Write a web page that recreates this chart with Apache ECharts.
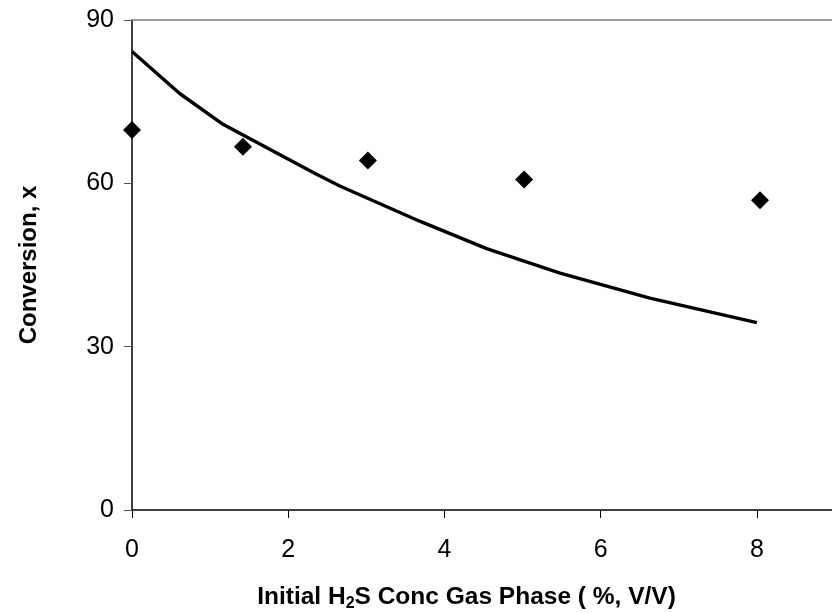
<!DOCTYPE html>
<html>
<head>
<meta charset="utf-8">
<script src="https://cdn.jsdelivr.net/npm/echarts@6/dist/echarts.min.js"></script>
<style>
  html, body { margin: 0; padding: 0; background: #fff; }
  #chart { width: 832px; height: 613px; }
</style>
</head>
<body>
<div id="chart"></div>
<script>
// Measured conversion at each initial H2S concentration
const measuredConc = [0, 1.42, 3.02, 5.02, 8.04];
const measuredConversion = [69.8, 66.7, 64.2, 60.7, 56.9];

// Model prediction curve
const modelConc = [0, 0.61, 1.17, 2.32, 2.66, 3.69, 4.54, 5.48, 6.63, 8.0];
const modelConversion = [84.2, 76.5, 70.8, 62.0, 59.5, 53.0, 48.0, 43.5, 38.9, 34.4];

const xTicks = [0, 2, 4, 6, 8];
const yTicks = [0, 30, 60, 90];

const font = 'Liberation Sans, Arial, sans-serif';

const chart = echarts.init(document.getElementById('chart'), null, { renderer: 'canvas' });

chart.setOption({
  animation: false,
  backgroundColor: '#ffffff',
  grid: { left: 132, top: 20, right: -3, bottom: 103, containLabel: false, outerBoundsMode: 'none' },
  xAxis: [
    {
      type: 'value',
      position: 'bottom',
      min: 0,
      max: 9,
      interval: 1,
      name: 'Initial H{sub|2}S Conc Gas Phase ( %, V/V)',
      nameLocation: 'middle',
      nameGap: 73,
      nameTextStyle: {
        fontFamily: font,
        fontWeight: 'bold',
        fontSize: 24.5,
        color: '#000',
        padding: [0, 34, 0, 0],
        rich: {
          sub: { fontFamily: font, fontWeight: 'bold', fontSize: 16, color: '#000', padding: [13, 0, 0, 0] }
        }
      },
      axisLine: { show: true, lineStyle: { color: '#000', width: 1.5 } },
      axisTick: {
        show: true, inside: false, length: 8,
        customValues: xTicks,
        lineStyle: { color: '#000', width: 1 }
      },
      axisLabel: {
        show: true, margin: 28,
        customValues: xTicks,
        fontFamily: font, fontSize: 25, color: '#000'
      },
      splitLine: { show: false }
    },
    {
      type: 'value',
      position: 'top',
      min: 0,
      max: 9,
      axisLine: { show: true, onZero: false, lineStyle: { color: '#7f7f7f', width: 1.5 } },
      axisTick: { show: false },
      axisLabel: { show: false },
      splitLine: { show: false }
    }
  ],
  yAxis: {
    type: 'value',
    min: 0,
    max: 90,
    interval: 30,
    name: 'Conversion, x',
    nameLocation: 'middle',
    nameGap: 91,
    nameTextStyle: {
      fontFamily: font, fontWeight: 'bold', fontSize: 24, color: '#000'
    },
    axisLine: { show: true, onZero: false, lineStyle: { color: '#000', width: 1.5 } },
    axisTick: { show: true, inside: false, length: 8, lineStyle: { color: '#555', width: 1 } },
    axisLabel: {
      show: true, margin: 18,
      customValues: yTicks,
      fontFamily: font, fontSize: 25, color: '#000'
    },
    splitLine: { show: false }
  },
  series: [
    {
      name: 'Model',
      type: 'line',
      data: modelConc.map((x, i) => [x, modelConversion[i]]),
      showSymbol: false,
      symbol: 'none',
      smooth: false,
      lineStyle: { color: '#000', width: 3.4 },
      z: 2
    },
    {
      name: 'Measured',
      type: 'scatter',
      data: measuredConc.map((x, i) => [x, measuredConversion[i]]),
      symbol: 'diamond',
      symbolSize: 18,
      itemStyle: { color: '#000', opacity: 1 },
      z: 3
    }
  ]
});
</script>
</body>
</html>
